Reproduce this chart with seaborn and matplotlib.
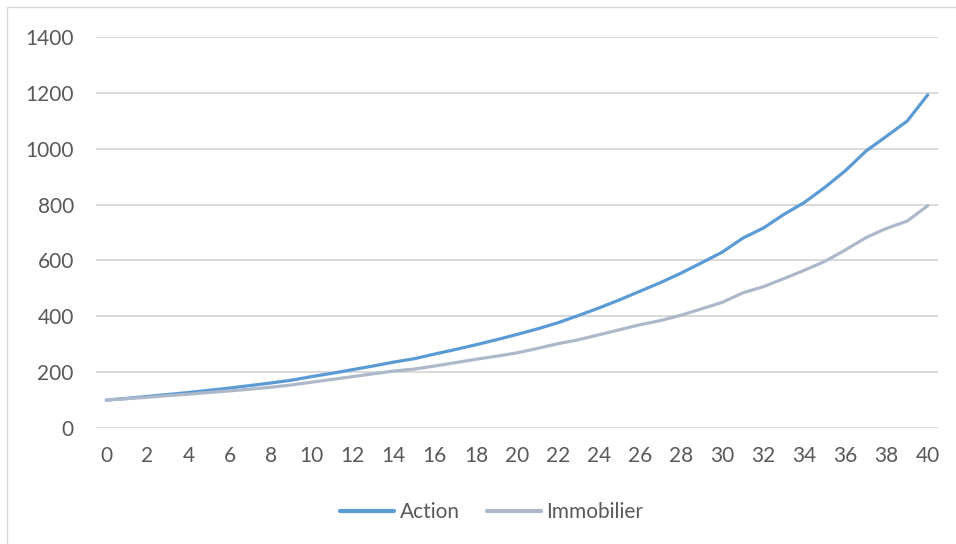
import numpy as np
import pandas as pd
import matplotlib
matplotlib.use("Agg")
import matplotlib.pyplot as plt
from matplotlib.patches import Rectangle
import seaborn as sns

years = list(range(0, 41))
action = [100, 106, 113, 120, 127, 135, 143, 152, 161, 171,
          184, 196, 209, 222, 236, 248, 265, 281, 298, 316,
          335, 355, 377, 403, 430, 459, 490, 521, 555, 592,
          630, 680, 716, 765, 808, 862, 922, 992, 1045, 1099,
          1193]
immobilier = [100, 105, 110, 116, 121, 127, 133, 139, 146, 154,
              164, 174, 184, 194, 204, 211, 222, 234, 246, 257,
              269, 285, 302, 316, 334, 352, 370, 385, 404, 427,
              450, 484, 506, 535, 565, 597, 638, 682, 715, 741,
              796]
series_names = ["Action", "Immobilier"]
series_colors = ["#5B9BD5", "#ADB9CA"]
y_ticks = [0, 200, 400, 600, 800, 1000, 1200, 1400]
x_ticks = list(range(0, 41, 2))

df = pd.DataFrame({
    "t": years * 2,
    "valeur": action + immobilier,
    "serie": [series_names[0]] * len(years) + [series_names[1]] * len(years),
})

sns.set_theme(style="white")
plt.rcParams["font.family"] = ["Lato", "DejaVu Sans"]

W, H, DPI = 956, 544, 100
fig = plt.figure(figsize=(W / DPI, H / DPI), dpi=DPI)
fig.patch.set_facecolor("white")

# chart-area frame (top and left edges visible)
fig.add_artist(Rectangle((7 / W, -0.1), 1.2, 1 - 7 / H + 0.1,
                         transform=fig.transFigure, fill=False,
                         edgecolor="#d9d9d9", linewidth=1.0))

ax = fig.add_axes([96 / W, 1 - 428 / H, (938 - 96) / W, (428 - 37) / H])

sns.lineplot(data=df, x="t", y="valeur", hue="serie",
             palette=series_colors, hue_order=series_names,
             linewidth=2.3, ax=ax, legend=True)
for line in ax.get_lines():
    line.set_solid_capstyle("round")
    line.set_solid_joinstyle("round")

ax.set_xlim(-0.5, 40.5)
ax.set_ylim(0, 1400)
ax.set_yticks(y_ticks)
ax.set_xticks(x_ticks)
ax.set_xlabel("")
ax.set_ylabel("")
for s in ax.spines.values():
    s.set_visible(False)
ax.grid(axis="y", color="#d9d9d9", linewidth=1.4)
ax.set_axisbelow(True)
ax.tick_params(axis="both", length=0, labelsize=15, labelcolor="#595959")
ax.tick_params(axis="y", pad=16)
ax.tick_params(axis="x", pad=13)

leg = ax.legend(loc="center", bbox_to_anchor=(491.5 / W, 1 - 512 / H),
                bbox_transform=fig.transFigure, ncol=2, frameon=False,
                fontsize=15, handlelength=2.6, handletextpad=0.25,
                columnspacing=1.3)
for t in leg.get_texts():
    t.set_color("#595959")
for h in leg.get_lines():
    h.set_linewidth(3)

fig.savefig("out.png", dpi=DPI)
